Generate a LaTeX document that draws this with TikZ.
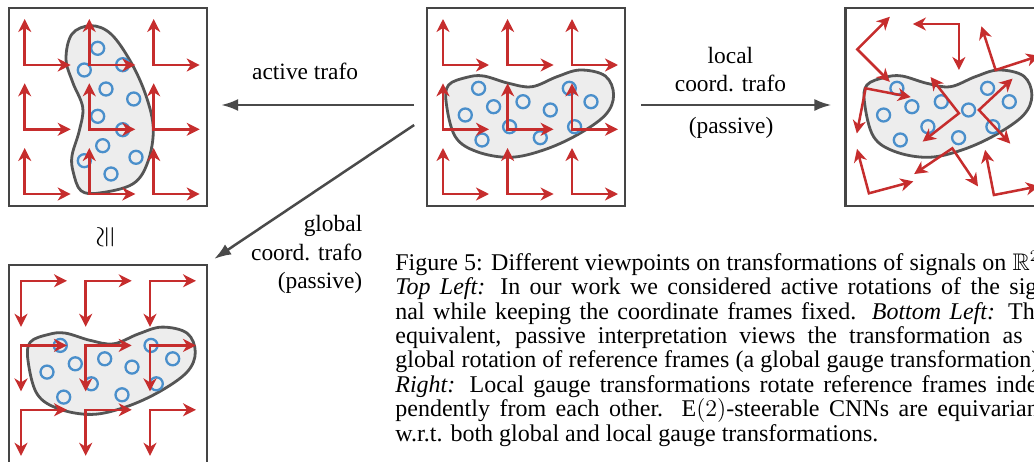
\documentclass[tikz,border=0pt]{standalone}
\usepackage{amsmath}
\usepackage{amssymb}
\usepackage{graphicx}
\usepackage{fontspec}
\setmainfont{Liberation Serif}
\usepackage{tikz}
\usetikzlibrary{positioning, calc, arrows.meta}

\definecolor{framered}{HTML}{C62D2D}
\definecolor{dotblue}{HTML}{4A8FCB}
\definecolor{blobfill}{HTML}{EDEDED}
\definecolor{blobline}{HTML}{555555}
\definecolor{boxgray}{HTML}{454545}
\definecolor{arrowgray}{HTML}{4A4A4A}

\tikzset{
	panel/.style={draw=boxgray, line width=1.15pt, minimum size=99pt, inner sep=0pt},
	refframe/.style={draw=framered, line width=1.25pt, >={Stealth[length=6.5pt, width=6.5pt, inset=2pt]}, <->},
	blob/.style={draw=blobline, fill=blobfill, line width=1.4pt},
	dot/.style={draw=dotblue, line width=1.15pt},
	trafo/.style={draw=arrowgray, line width=1.25pt, -{Latex[length=8.5pt, width=6pt]}},
	lbl/.style={font=\fontsize{11.7}{14.2}\selectfont, inner sep=0pt},
	caption/.style={font=\fontsize{12}{12.2}\selectfont, inner sep=0pt, align=left},
}

% the signal: blob with sample points, centred at the origin
\newcommand{\signal}{%
	\draw[blob] plot[smooth cycle, tension=0.6] coordinates {(-80,3.7) (-77.7,22) (-59.3,29.7) (-42.7,31) (-17.7,23.7) (5.7,20.3) (30.7,30.3) (54,37) (79,31) (87.3,12) (79,-8) (50.7,-28) (17.3,-43) (-16,-50.3) (-49.3,-44.7) (-71,-29.7)};
	\foreach \cx/\cy in {-47.7/18.7, -32.7/0.3, -61/-8, -44.3/-33, -16.7/-19.7, -3.3/5.3, 24/-3, 14/-30.7, 43/18.7, 64.7/5.3, 48.3/-19.7}
		\draw[dot] (\cx,\cy) circle (6.5);
}
% 3x3 grid of reference frames
\newcommand{\framegrid}{%
	\foreach \fx in {-83.3,-18.7,45.7}
		\foreach \fy in {42,-22.3,-87}
			\draw[refframe, shift={(\fx,\fy)}] (46,0) -- (0,0) -- (0,46);
}
% one justified caption line
\newcommand{\capline}[1]{\makebox[325pt][s]{#1}}

\begin{document}
\begin{tikzpicture}[x=0.5pt, y=0.5pt]
		\useasboundingbox (0,0) rectangle (1034,-461);
		\clip (0,0) rectangle (1034,-461);

		\node[panel] (tl) at (108,-107) {};
		\node[panel, right=109pt of tl] (tm) {};
		\node[panel, right=109pt of tm] (tr) {};
		\node[panel, below=28.4pt of tl] (bl) {};

		% top left: active rotation, frames fixed
		\begin{scope}[shift={(tl.center)}]
			\begin{scope}[shift={(-5,-6)}, rotate=90]
				\signal
			\end{scope}
			\framegrid
		\end{scope}
		% top middle: original
		\begin{scope}[shift={(tm.center)}]
			\signal
			\framegrid
		\end{scope}
		% bottom left: global frame rotation
		\begin{scope}[shift={(bl.center)}]
			\signal
			\begin{scope}[rotate=-90]
				\framegrid
			\end{scope}
		\end{scope}
		% top right: local frame rotations
		\begin{scope}[shift={(tr.center)}]
			\signal
			\foreach \fx/\fy/\fa in {-87.3/57.7/-45, 14.3/83/180, 51/37/18, -79/18.7/-101, 14.3/-6.3/128, 34.3/-3/-47, -75.7/-86.3/15, 7.7/-41.3/214, 49.3/-88/11}
				\draw[refframe, shift={(\fx,\fy)}, rotate=\fa] (46,0) -- (0,0) -- (0,46);
		\end{scope}

		\draw[trafo] ($(tm.west)+(-12,2)$) -- ($(tl.east)+(13,2)$);
		\draw[trafo] ($(tm.east)+(15,2)$) -- ($(tr.west)+(-13,2)$);
		\draw[trafo] ($(tm.west)+(-12,-18)$) -- ($(bl.north east)+(6,5)$);

		\node[lbl, anchor=base] (active) at ($(tl.east)+(97,28)$) {active trafo};
		\node[lbl, anchor=base, align=center] (local) at ($(tm.east)+(104,15.3)$) {local\\coord. trafo};
		\node[lbl, anchor=base] (passive) at ($(tm.east)+(104.6,-26)$) {(passive)};
		\node[lbl, anchor=base east, align=right] (global) at ($(bl.north east)+(154.5,-24.5)$) {global\\coord. trafo\\(passive)};
		\node (iso) at ($(tl.south)+(-1,-30)$) {\rotatebox{90}{\scalebox{1.45}{$\cong$}}};

		\node[caption, anchor=base west] (cap) at (395,-441) {%
			\capline{Figure 5: Different viewpoints on transformations of signals on $\mathbb{R}^2$.}\\
			\capline{\textit{Top Left:} In our work we considered active rotations of the sig-}\\
			\capline{nal while keeping the coordinate frames fixed. \textit{Bottom Left:} The}\\
			\capline{equivalent, passive interpretation views the transformation as a}\\
			\capline{global rotation of reference frames (a global gauge transformation).}\\
			\capline{\textit{Right:} Local gauge transformations rotate reference frames inde-}\\
			\capline{pendently from each other. $\mathrm{E}(2)$-steerable CNNs are equivariant}\\
			w.r.t. both global and local gauge transformations.};
	\end{tikzpicture}
\end{document}
